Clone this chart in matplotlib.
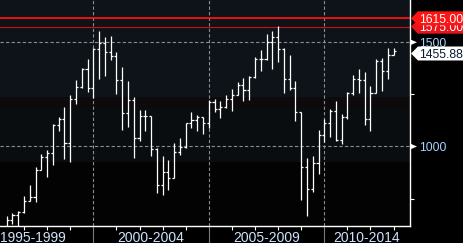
import numpy as np
import matplotlib.pyplot as plt
from matplotlib.patches import Polygon, Rectangle
from matplotlib.transforms import blended_transform_factory

plt.rcParams['font.family'] = ['Liberation Sans', 'DejaVu Sans']

# quarterly OHLC, 1996 Q1 .. 2012 Q4 (last quarter still open)
years = list(range(1996, 2013))
opens = [615.93, 645.50, 670.63, 687.31,
         740.74, 757.12, 885.14, 947.28,
         970.43, 1101.75, 1133.84, 1017.01,
         1229.23, 1286.37, 1372.71, 1282.71,
         1469.25, 1498.58, 1454.60, 1436.51,
         1320.28, 1160.33, 1224.42, 1040.94,
         1148.08, 1147.39, 989.82, 815.28,
         879.82, 848.18, 974.50, 995.97,
         1111.92, 1126.21, 1140.84, 1114.58,
         1211.92, 1180.59, 1191.33, 1228.81,
         1248.29, 1294.83, 1270.20, 1335.85,
         1418.30, 1420.86, 1503.35, 1526.75,
         1468.36, 1322.70, 1280.00, 1166.36,
         903.25, 797.87, 919.32, 1057.08,
         1115.10, 1169.43, 1030.71, 1141.20,
         1257.64, 1325.83, 1320.64, 1131.42,
         1257.60, 1408.47, 1362.16, 1440.90]
highs = [664.2, 683.0, 690.9, 762.0,
         817.0, 900.0, 962.0, 984.0,
         1110.0, 1140.0, 1190.6, 1245.0,
         1320.0, 1375.0, 1420.3, 1473.0,
         1552.9, 1527.2, 1530.1, 1454.8,
         1383.4, 1315.9, 1236.7, 1173.6,
         1177.0, 1147.8, 994.5, 954.3,
         935.0, 1015.3, 1040.3, 1112.0,
         1163.2, 1150.6, 1143.0, 1222.0,
         1229.1, 1219.6, 1245.9, 1275.8,
         1310.9, 1326.7, 1340.3, 1431.8,
         1461.6, 1540.6, 1555.9, 1576.1,
         1471.8, 1440.2, 1313.2, 1167.0,
         943.9, 956.2, 1080.2, 1130.4,
         1180.7, 1219.8, 1157.2, 1262.6,
         1344.1, 1370.6, 1356.5, 1292.7,
         1419.2, 1422.4, 1474.5, 1471.0]
lows = [597.3, 626.7, 600.8, 681.0,
        737.0, 733.5, 885.0, 855.3,
        912.8, 1075.0, 940.0, 923.3,
        1205.5, 1280.0, 1262.0, 1233.7,
        1326.0, 1339.4, 1414.0, 1254.1,
        1081.2, 1092.0, 944.8, 1027.0,
        1074.4, 954.0, 775.7, 768.6,
        788.9, 847.9, 960.8, 995.0,
        1087.2, 1076.3, 1060.7, 1090.2,
        1163.7, 1136.2, 1183.6, 1168.2,
        1245.7, 1219.3, 1224.5, 1327.1,
        1364.0, 1416.4, 1370.6, 1406.1,
        1257.0, 1272.0, 1120.0, 741.0,
        666.8, 783.3, 869.3, 1020.0,
        1044.5, 1028.3, 1010.9, 1131.9,
        1249.1, 1258.1, 1101.5, 1074.8,
        1258.9, 1266.7, 1325.4, 1438.4]
closes = [645.50, 670.63, 687.31, 740.74,
          757.12, 885.14, 947.28, 970.43,
          1101.75, 1133.84, 1017.01, 1229.23,
          1286.37, 1372.71, 1282.71, 1469.25,
          1498.58, 1454.60, 1436.51, 1320.28,
          1160.33, 1224.42, 1040.94, 1148.08,
          1147.39, 989.82, 815.28, 879.82,
          848.18, 974.50, 995.97, 1111.92,
          1126.21, 1140.84, 1114.58, 1211.92,
          1180.59, 1191.33, 1228.81, 1248.29,
          1294.83, 1270.20, 1335.85, 1418.30,
          1420.86, 1503.35, 1526.75, 1468.36,
          1322.70, 1280.00, 1166.36, 903.25,
          797.87, 919.32, 1057.08, 1115.10,
          1169.43, 1030.71, 1141.20, 1257.64,
          1325.83, 1320.64, 1131.42, 1257.60,
          1408.47, 1362.16, 1440.67, 1455.88]

levels = [1615.00, 1575.00]
last_price = 1455.88
period_labels = ['1995-1999', '2000-2004', '2005-2009', '2010-2014']
period_starts = [2000, 2005, 2010]

# bar sits at end of its quarter
x = np.array([y + q / 4 for y in years for q in range(1, 5)])

W, H = 464, 243
fig = plt.figure(figsize=(W / 100, H / 100), dpi=100, facecolor='black')
ax = fig.add_axes([0, 17 / H, 409.5 / W, 226 / H])
ax.set_facecolor('#030303')
xmin, xmax = 1995.96, 2013.69
ymin, ymax = 618.5, 1703
ax.set_xlim(xmin, xmax)
ax.set_ylim(ymin, ymax)

# faint background bands
for y0, y1, c in [(0.571, 1.0, '#0d1318'), (0.522, 0.571, '#0c0a0a'),
                  (0.283, 0.522, '#0a0d10')]:
    ax.add_patch(Rectangle((0, y0), 1, y1 - y0, transform=ax.transAxes,
                           color=c, zorder=0, lw=0))

# grid
for lv in [1000, 1500]:
    ax.axhline(lv, color='#8c8c8c', lw=0.8, ls=(0, (3, 2)), zorder=1)
trans_xfig = blended_transform_factory(ax.transData, fig.transFigure)
for p in period_starts:
    ax.axvline(p, color='#8c8c8c', lw=0.8, ls=(0, (3, 2)), zorder=1)
    ax.plot([p, p], [0, 17 / H], color='#7a7a7a', lw=0.8,
            transform=trans_xfig, clip_on=False)

# level lines
ax.axhline(levels[0], color='#ff1010', lw=1.3, zorder=2)
ax.axhline(levels[1], color='#d01010', lw=0.8, zorder=2)

# OHLC bars
w = 0.09
ax.vlines(x, lows, highs, color='white', lw=0.9, zorder=3)
ax.hlines(opens, x - w, x, color='white', lw=0.9, zorder=3)
ax.hlines(closes, x, x + w, color='white', lw=0.9, zorder=3)

# axes styling
for s in ['left', 'top']:
    ax.spines[s].set_visible(False)
for s in ['right', 'bottom']:
    ax.spines[s].set_color('white')
    ax.spines[s].set_linewidth(1.0)
ax.yaxis.tick_right()
ax.set_yticks([750, 1250])
ax.set_yticklabels([])
ax.set_xticks([yr for yr in range(1997, 2014) if yr not in period_starts])
ax.set_xticklabels([])
ax.tick_params(colors='white', length=3, width=0.8, direction='out')

lab_x = [1997.4, 2002.5, 2007.5, (2010 + xmax) / 2]
for lx, t in zip(lab_x, period_labels):
    ax.text(lx, 7 / H, t, transform=trans_xfig, ha='center',
            va='center_baseline', color='#cfe3ff', fontsize=10)

# right side price tags
trans_yfig = blended_transform_factory(fig.transFigure, ax.transData)
unit = 226 / (ymax - ymin)  # pixels per price unit


def tag(val, text, face, fg, z, shift=0):
    c = val - shift / unit
    h = 7 / unit
    pts = [(411 / W, c), (418 / W, c + h), (1.0, c + h),
           (1.0, c - h), (418 / W, c - h)]
    ax.add_patch(Polygon(pts, closed=True, transform=trans_yfig,
                         facecolor=face, edgecolor='none', clip_on=False,
                         zorder=z))
    ax.text(419 / W, c, text, transform=trans_yfig, ha='left',
            va='center_baseline', color=fg, fontsize=8.8, clip_on=False,
            zorder=z)


for lv in [1000, 1500]:
    h = 3 / unit
    ax.add_patch(Polygon([(410 / W, lv + h), (410 / W, lv - h), (417 / W, lv)],
                         closed=True, transform=trans_yfig, facecolor='white',
                         edgecolor='none', clip_on=False, zorder=5))
    ax.text(419 / W, lv, str(lv), transform=trans_yfig, ha='left',
            va='center_baseline', color='#a6d2ff', fontsize=8.8, zorder=5)

tag(levels[1], f'{levels[1]:.2f}', '#e8141a', 'white', 6)
tag(levels[0], f'{levels[0]:.2f}', '#ff1414', 'white', 7)
tag(last_price, f'{last_price:.2f}', 'white', '#0a1a30', 8, shift=2)

fig.savefig('out.png', dpi=100, facecolor='black')
